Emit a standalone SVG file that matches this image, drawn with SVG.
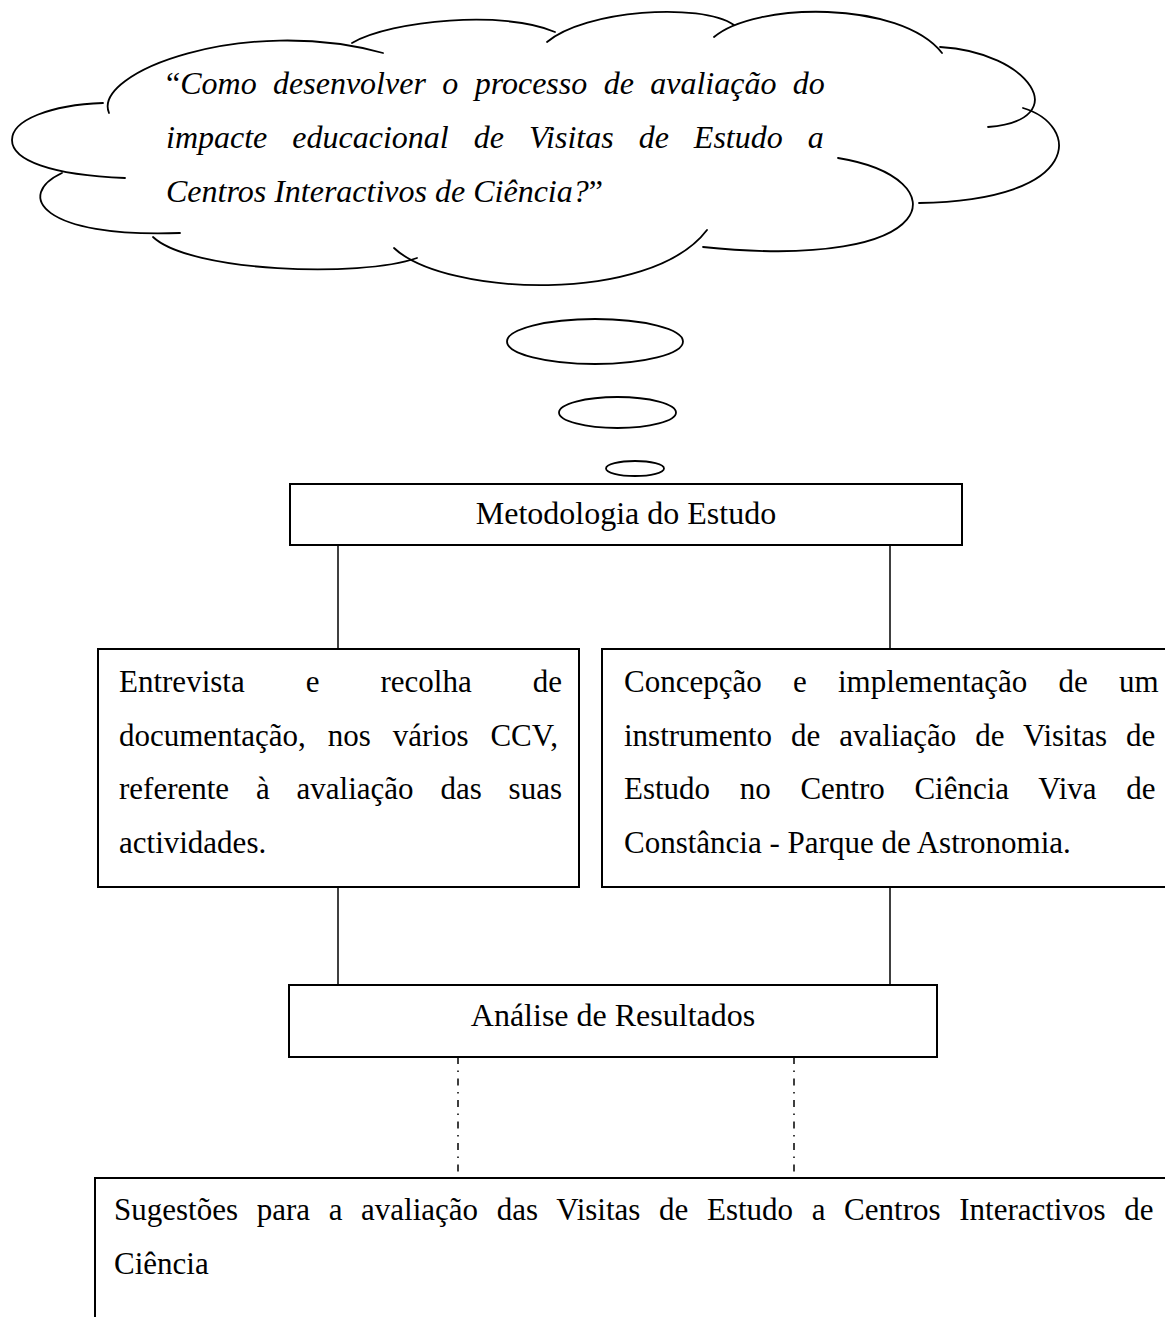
<svg xmlns="http://www.w3.org/2000/svg" width="1165" height="1317" viewBox="0 0 1165 1317">
<style>
.bg{fill:#fff}
.box{fill:#fff;stroke:#000;stroke-width:2}
.cl{fill:none;stroke:#000;stroke-width:1.8;stroke-linecap:round}
.bub{fill:#fff;stroke:#000;stroke-width:1.8}
.con{stroke:#000;stroke-width:1.5;fill:none}
.dash{stroke:#000;stroke-width:1.5;fill:none;stroke-dasharray:7 6.5 1.5 6.5}
.t{font-family:"Liberation Serif","Times New Roman",serif;font-size:31px;fill:#000}
.h{font-size:32px}
.it{font-style:italic;font-size:32px}
.up{font-style:normal}
.c{text-anchor:middle}
</style>
<rect class="bg" x="0" y="0" width="1165" height="1317"/>

<g id="cloud">
  <path class="cl" d="M109,113 C92,72 245,15 383,53"/>
  <path class="cl" d="M352,43 C392,20 505,10 555,32"/>
  <path class="cl" d="M547,42 C585,10 700,2 734,25"/>
  <path class="cl" d="M714,37 C755,2 900,0 942,53"/>
  <path class="cl" d="M940,47 C1030,52 1075,120 988,127"/>
  <path class="cl" d="M1023,108 C1080,125 1085,200 919,203"/>
  <path class="cl" d="M838,158 C960,178 945,272 703,247"/>
  <path class="cl" d="M394,248 C445,296 650,305 707,230"/>
  <path class="cl" d="M153,237 C190,272 360,278 417,258"/>
  <path class="cl" d="M62,173 C15,195 40,238 180,233"/>
  <path class="cl" d="M103,103 C50,105 12,120 12,140 C12,160 50,175 125,178"/>
  <text class="t it" x="166" y="94" style="word-spacing:8.4px"><tspan class="up">“</tspan>Como desenvolver o processo de avaliação do</text>
  <text class="t it" x="166" y="148" style="word-spacing:17px">impacte educacional de Visitas de Estudo a</text>
  <text class="t it" x="166" y="202">Centros Interactivos de Ciência?<tspan class="up">”</tspan></text>
</g>

<g id="bubbles">
  <ellipse class="bub" cx="595" cy="341.5" rx="88" ry="22.5"/>
  <ellipse class="bub" cx="617.5" cy="412.5" rx="58.5" ry="15.5"/>
  <ellipse class="bub" cx="635" cy="468.5" rx="29" ry="7.5"/>
</g>

<g id="connectors">
  <line class="con" x1="338" y1="545" x2="338" y2="649"/>
  <line class="con" x1="890" y1="545" x2="890" y2="649"/>
  <line class="con" x1="338" y1="887" x2="338" y2="985"/>
  <line class="con" x1="890" y1="887" x2="890" y2="985"/>
  <line class="dash" x1="458" y1="1057" x2="458" y2="1178"/>
  <line class="dash" x1="794" y1="1057" x2="794" y2="1178"/>
</g>

<g id="metodologia">
  <rect class="box" x="290" y="484" width="672" height="61"/>
  <text class="t h c" x="626" y="524">Metodologia do Estudo</text>
</g>

<g id="entrevista">
  <rect class="box" x="98" y="649" width="481" height="238"/>
  <text class="t" x="119" y="692" style="word-spacing:53.25px">Entrevista e recolha de</text>
  <text class="t" x="119" y="745.5" style="word-spacing:14.2px">documentação, nos vários CCV,</text>
  <text class="t" x="119" y="799" style="word-spacing:19.1px">referente à avaliação das suas</text>
  <text class="t" x="119" y="852.5">actividades.</text>
</g>

<g id="concepcao">
  <rect class="box" x="602" y="649" width="600" height="238"/>
  <text class="t" x="624" y="692" style="word-spacing:23.5px">Concepção e implementação de um</text>
  <text class="t" x="624" y="745.5" style="word-spacing:11.2px">instrumento de avaliação de Visitas de</text>
  <text class="t" x="624" y="799" style="word-spacing:21.9px">Estudo no Centro Ciência Viva de</text>
  <text class="t" x="624" y="852.5">Constância - Parque de Astronomia.</text>
</g>

<g id="analise">
  <rect class="box" x="289" y="985" width="648" height="72"/>
  <text class="t h c" x="613" y="1026">Análise de Resultados</text>
</g>

<g id="sugestoes">
  <rect class="box" x="95" y="1178" width="1100" height="170"/>
  <text class="t" x="114" y="1220" style="word-spacing:10.9px">Sugestões para a avaliação das Visitas de Estudo a Centros Interactivos de</text>
  <text class="t" x="114" y="1274">Ciência</text>
</g>
</svg>
